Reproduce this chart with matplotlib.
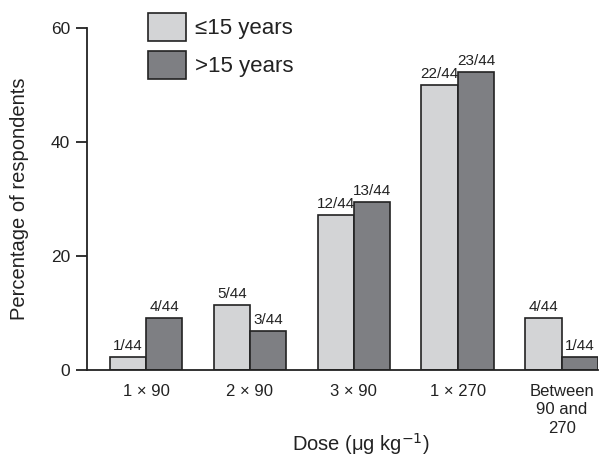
import matplotlib.pyplot as plt
import numpy as np

plt.rcParams['font.family'] = ['Liberation Sans', 'DejaVu Sans']

# respondents per dose group, out of 44 in each age group
doses = ["1 \u00d7 90", "2 \u00d7 90", "3 \u00d7 90", "1 \u00d7 270", "Between\n90 and\n270"]
young = [1, 5, 12, 22, 4]
older = [4, 3, 13, 23, 1]
total = 44

light = "#d3d4d6"
dark = "#7e7f83"
edge = "#222222"

fig = plt.figure(figsize=(6.11, 4.59), dpi=100)
ax = fig.add_axes([0.142, 0.194, 0.837, 0.745])

x = np.arange(len(doses))
w = 0.35
pct_young = [n / total * 100 for n in young]
pct_older = [n / total * 100 for n in older]

b1 = ax.bar(x - w / 2, pct_young, w, color=light, edgecolor=edge, linewidth=1.2,
            label="\u226415 years")
b2 = ax.bar(x + w / 2, pct_older, w, color=dark, edgecolor=edge, linewidth=1.2,
            label=">15 years")

for bars, counts in ((b1, young), (b2, older)):
    for bar, n in zip(bars, counts):
        ax.text(bar.get_x() + bar.get_width() / 2, bar.get_height() + 0.7,
                "{}/{}".format(n, total), ha="center", va="bottom",
                fontsize=11, color="#222222")

ax.set_xlim(-0.57, 4.35)
ax.set_ylim(0, 60)
ax.set_yticks([0, 20, 40, 60])
ax.set_xticks(x)
ax.set_xticklabels(doses, fontsize=12, linespacing=1.3)
ax.tick_params(axis="x", length=0, pad=10, colors="#222222")
ax.tick_params(axis="y", length=8, width=1.3, labelsize=12.5, pad=4, direction="out",
               colors="#222222")

for s in ("top", "right"):
    ax.spines[s].set_visible(False)
for s in ("left", "bottom"):
    ax.spines[s].set_linewidth(1.3)
    ax.spines[s].set_color("#222222")

ax.set_ylabel("Percentage of respondents", fontsize=14.5, color="#222222")
ax.yaxis.set_label_coords(-0.112, 0.5)
ax.set_xlabel("Dose (\u03bcg kg$^{-1}$)", fontsize=14.5, color="#222222")
ax.xaxis.set_label_coords(0.536, -0.178)

ax.legend(loc="upper left", bbox_to_anchor=(0.243, 0.972), bbox_transform=fig.transFigure,
          frameon=False, fontsize=16, handlelength=1.7, handleheight=1.55,
          handletextpad=0.4, labelspacing=0.45, borderpad=0, borderaxespad=0,
          labelcolor="#222222")

fig.savefig("out.png", dpi=100)
